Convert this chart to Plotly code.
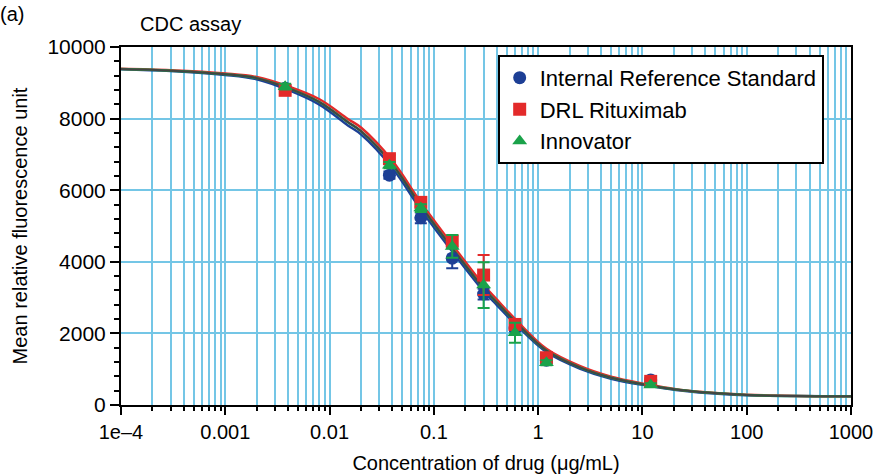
import plotly.graph_objects as go

# Dilution series (µg/mL)
conc = [0.00375, 0.0375, 0.075, 0.15, 0.3, 0.6, 1.2, 12]

# Mean relative fluorescence and SD for each sample
irs_mean = [8850, 6420, 5230, 4100, 3100, 2150, 1250, 700]
irs_sd = [80, 100, 150, 280, 150, 100, 80, 60]

drl_mean = [8790, 6880, 5660, 4580, 3630, 2250, 1320, 660]
drl_sd = [90, 100, 120, 150, 560, 120, 80, 60]

inn_mean = [8890, 6700, 5500, 4430, 3350, 2020, 1180, 560]
inn_sd = [80, 90, 110, 320, 640, 280, 70, 50]

# Fitted dose–response curves
curve_conc = [1e-4, 3e-4, 1e-3, 2e-3, 4e-3, 8e-3, 0.015, 0.02, 0.04, 0.075,
              0.15, 0.3, 0.4, 0.63, 1.2, 2.5, 5, 11, 21, 35, 100, 300, 1000]
fit_inn = [9385, 9340, 9240, 9130, 8850, 8460, 7900, 7650, 6720, 5560,
           4380, 3260, 2870, 2270, 1520, 1050, 760, 560, 430, 360, 280, 250, 245]
fit_drl = [9390, 9350, 9260, 9160, 8900, 8540, 7990, 7750, 6820, 5660,
           4480, 3350, 2950, 2340, 1570, 1090, 790, 580, 440, 370, 285, 252, 246]
fit_irs = [9380, 9330, 9220, 9100, 8800, 8390, 7810, 7560, 6620, 5460,
           4290, 3180, 2800, 2210, 1480, 1020, 735, 545, 420, 352, 275, 248, 244]

x_ticks = [1e-4, 1e-3, 1e-2, 1e-1, 1, 10, 100, 1000]
x_labels = ["1e\u20134", "0.001", "0.01", "0.1", "1", "10", "100", "1000"]

BLUE = "#1d3f95"
RED = "#e32a2a"
GREEN = "#1aa24a"
GRID = "#74c6e6"
FONT = "Liberation Sans, Arial, sans-serif"
FS = 20

fig = go.Figure()

# Curves (drawn underneath the points)
for ys, col, w in [(fit_irs, BLUE, 2.5), (fit_drl, RED, 2.5), (fit_inn, GREEN, 2.5)]:
    fig.add_trace(go.Scatter(x=curve_conc, y=ys, mode="lines", line=dict(color=col, width=w, shape="spline"),
                             showlegend=False, hoverinfo="skip"))
fig.add_trace(go.Scatter(x=curve_conc, y=fit_inn, mode="lines",
                         line=dict(color="#444444", width=2, shape="spline"),
                         showlegend=False, hoverinfo="skip"))

# Measured points with error bars
for name, ys, sd, col, sym in [
    ("Internal Reference Standard", irs_mean, irs_sd, BLUE, "circle"),
    ("DRL Rituximab", drl_mean, drl_sd, RED, "square"),
    ("Innovator", inn_mean, inn_sd, GREEN, "triangle-up"),
]:
    fig.add_trace(go.Scatter(
        x=conc, y=ys, mode="markers", name=name,
        marker=dict(symbol=sym, size=13, color=col, line=dict(width=0)),
        error_y=dict(type="data", array=sd, visible=True, color=col, thickness=2, width=6),
    ))

minor_x = [m * 10 ** e for e in range(-4, 3) for m in range(2, 10)]

fig.update_layout(
    width=875, height=475,
    margin=dict(l=121, r=24, t=47, b=70),
    paper_bgcolor="white", plot_bgcolor="white",
    font=dict(family=FONT, size=FS, color="black"),
    legend=dict(
        x=0.516, y=0.978, xanchor="left", yanchor="top",
        bgcolor="white", bordercolor="black", borderwidth=2,
        font=dict(size=22, family=FONT), itemwidth=30, tracegroupgap=0,
    ),
    annotations=[
        dict(text="(a)", x=0, y=1, xref="paper", yref="paper", xanchor="left", yanchor="top",
             showarrow=False, font=dict(size=FS), xshift=-123, yshift=46),
        dict(text="CDC assay", x=0, y=1, xref="paper", yref="paper", xanchor="left", yanchor="bottom",
             showarrow=False, font=dict(size=FS), xshift=17, yshift=10),
    ],
)

fig.update_xaxes(
    type="log", range=[-4, 3], automargin=False,
    tickvals=x_ticks, ticktext=x_labels,
    ticks="outside", ticklen=8, tickwidth=2, tickcolor="black",
    showline=True, linecolor="black", linewidth=2, mirror=True,
    showgrid=True, gridcolor=GRID, gridwidth=2,
    minor=dict(tickvals=minor_x, ticks="outside", ticklen=4, tickwidth=2, tickcolor="black",
               showgrid=True, gridcolor=GRID, gridwidth=2),
    title=dict(text="Concentration of drug (\u03bcg/mL)", font=dict(size=FS), standoff=14),
    tickfont=dict(size=FS), zeroline=False,
)
fig.update_yaxes(
    range=[0, 10000], dtick=2000, tickformat="d", automargin=False,
    ticks="outside", ticklen=9, tickwidth=2, tickcolor="black",
    showline=True, linecolor="black", linewidth=2, mirror=True,
    showgrid=True, gridcolor=GRID, gridwidth=2,
    minor=dict(dtick=400, ticks="outside", ticklen=5, tickwidth=2, tickcolor="black", showgrid=False),
    title=dict(text="Mean relative fluorescence unit", font=dict(size=FS), standoff=14),
    tickfont=dict(size=21), zeroline=False,
)

fig.write_html("out.html")
